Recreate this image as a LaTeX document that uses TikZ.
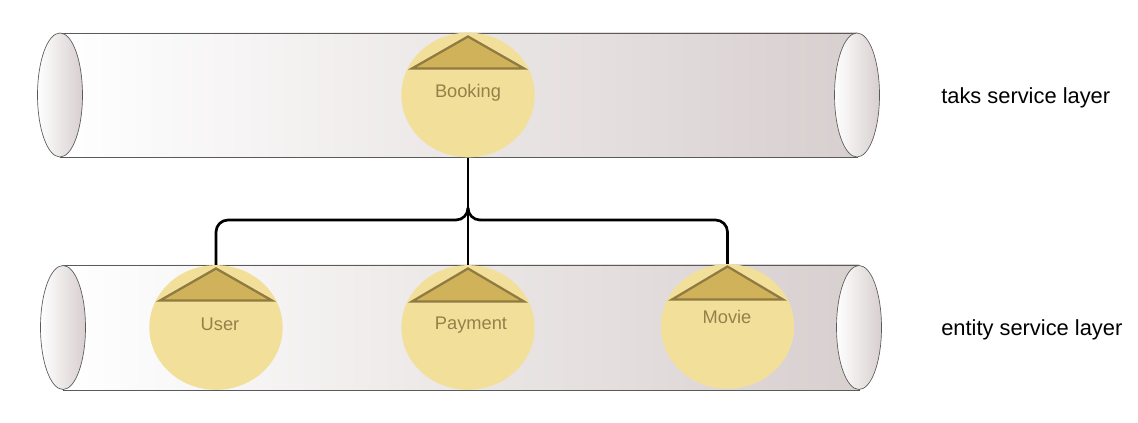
\documentclass[tikz,border=0pt]{standalone}
\usepackage{fontspec}
\setmainfont{Liberation Sans}
\usepackage{xcolor}
\usetikzlibrary{calc,shapes.geometric}
\definecolor{tubeend}{HTML}{D8CFCF}
\definecolor{tubeline}{HTML}{5A5A5A}
\definecolor{svcfill}{HTML}{F2E09A}
\definecolor{roofedge}{HTML}{8F7A42}
\definecolor{rooffill}{HTML}{CFB25A}
\definecolor{svctext}{HTML}{95804A}
\tikzset{
    tube/.style={draw=tubeline,line width=.5pt,left color=white,right color=tubeend},
    tubecap/.style={ellipse,draw=tubeline,line width=.5pt,left color=white,right color=tubeend,
        minimum width=33.75pt,minimum height=93pt,inner sep=0pt},
    service/.style={ellipse,fill=svcfill,minimum width=100pt,minimum height=93.5pt,inner sep=0pt},
    roof/.style={draw=roofedge,fill=rooffill,line width=1.7pt,line join=miter},
    svclabel/.style={text=svctext,font=\fontsize{13.7}{16}\selectfont},
    layerlabel/.style={anchor=west,inner sep=0pt,text=black,font=\fontsize{16.4}{19}\selectfont},
    link/.style={draw=black,line width=2pt}
}
\begin{document}
\begin{tikzpicture}[x=.75pt,y=-.75pt]
            \useasboundingbox (0,0) rectangle (1138,423);
            % upper tube
            \draw[tube] (60,33) rectangle (857,157);
            \node[tubecap] (capTL) at (60,95) {};
            \node[tubecap] (capTR) at (857,95) {};
            % lower tube
            \draw[tube] (63,265) rectangle (859,390);
            \node[tubecap] (capBL) at (63,327.5) {};
            \node[tubecap] (capBR) at (859,327.5) {};
            % services
            \node[service] (booking) at (468,95) {};
            \node[service] (user) at (216,327.5) {};
            \node[service] (payment) at (468,327.5) {};
            \node[service] (movie) at (727.5,326.5) {};
            \draw[roof] (468,36.5) -- (412,68.5) -- (524,68.5) -- cycle;
            \draw[roof] (216,268.5) -- (160,300.5) -- (272,300.5) -- cycle;
            \draw[roof] (468,268.5) -- (412,301.5) -- (524,301.5) -- cycle;
            \draw[roof] (727.5,266.5) -- (672,299.5) -- (783,299.5) -- cycle;
            \node[svclabel] (bookingtext) at (468,92.5) {Booking};
            \node[svclabel] (usertext) at (220,324) {User};
            \node[svclabel] (paymenttext) at (471,325) {Payment};
            \node[svclabel] (movietext) at (727,317) {Movie};
            % connectors
            \coordinate (fork) at (468,208);
            \coordinate (forkL) at (456,220);
            \coordinate (forkR) at (480,220);
            \draw[link] (booking.south) -- (payment.north);
            \draw[link] (fork) .. controls (468,214.6) and (462.6,220) .. (forkL);
            \draw[link] (fork) .. controls (468,214.6) and (473.4,220) .. (forkR);
            \draw[link,rounded corners=9pt] (forkL) -- (user.north |- forkL) -- (user.north);
            \draw[link,rounded corners=9pt] (forkR) -- (movie.north |- forkR) -- (movie.north);
            % layer names
            \node[layerlabel] (tasklayer) at (941,97.5) {taks service layer};
            \node[layerlabel] (entitylayer) at (941,330) {entity service layer};
        \end{tikzpicture}
\end{document}
